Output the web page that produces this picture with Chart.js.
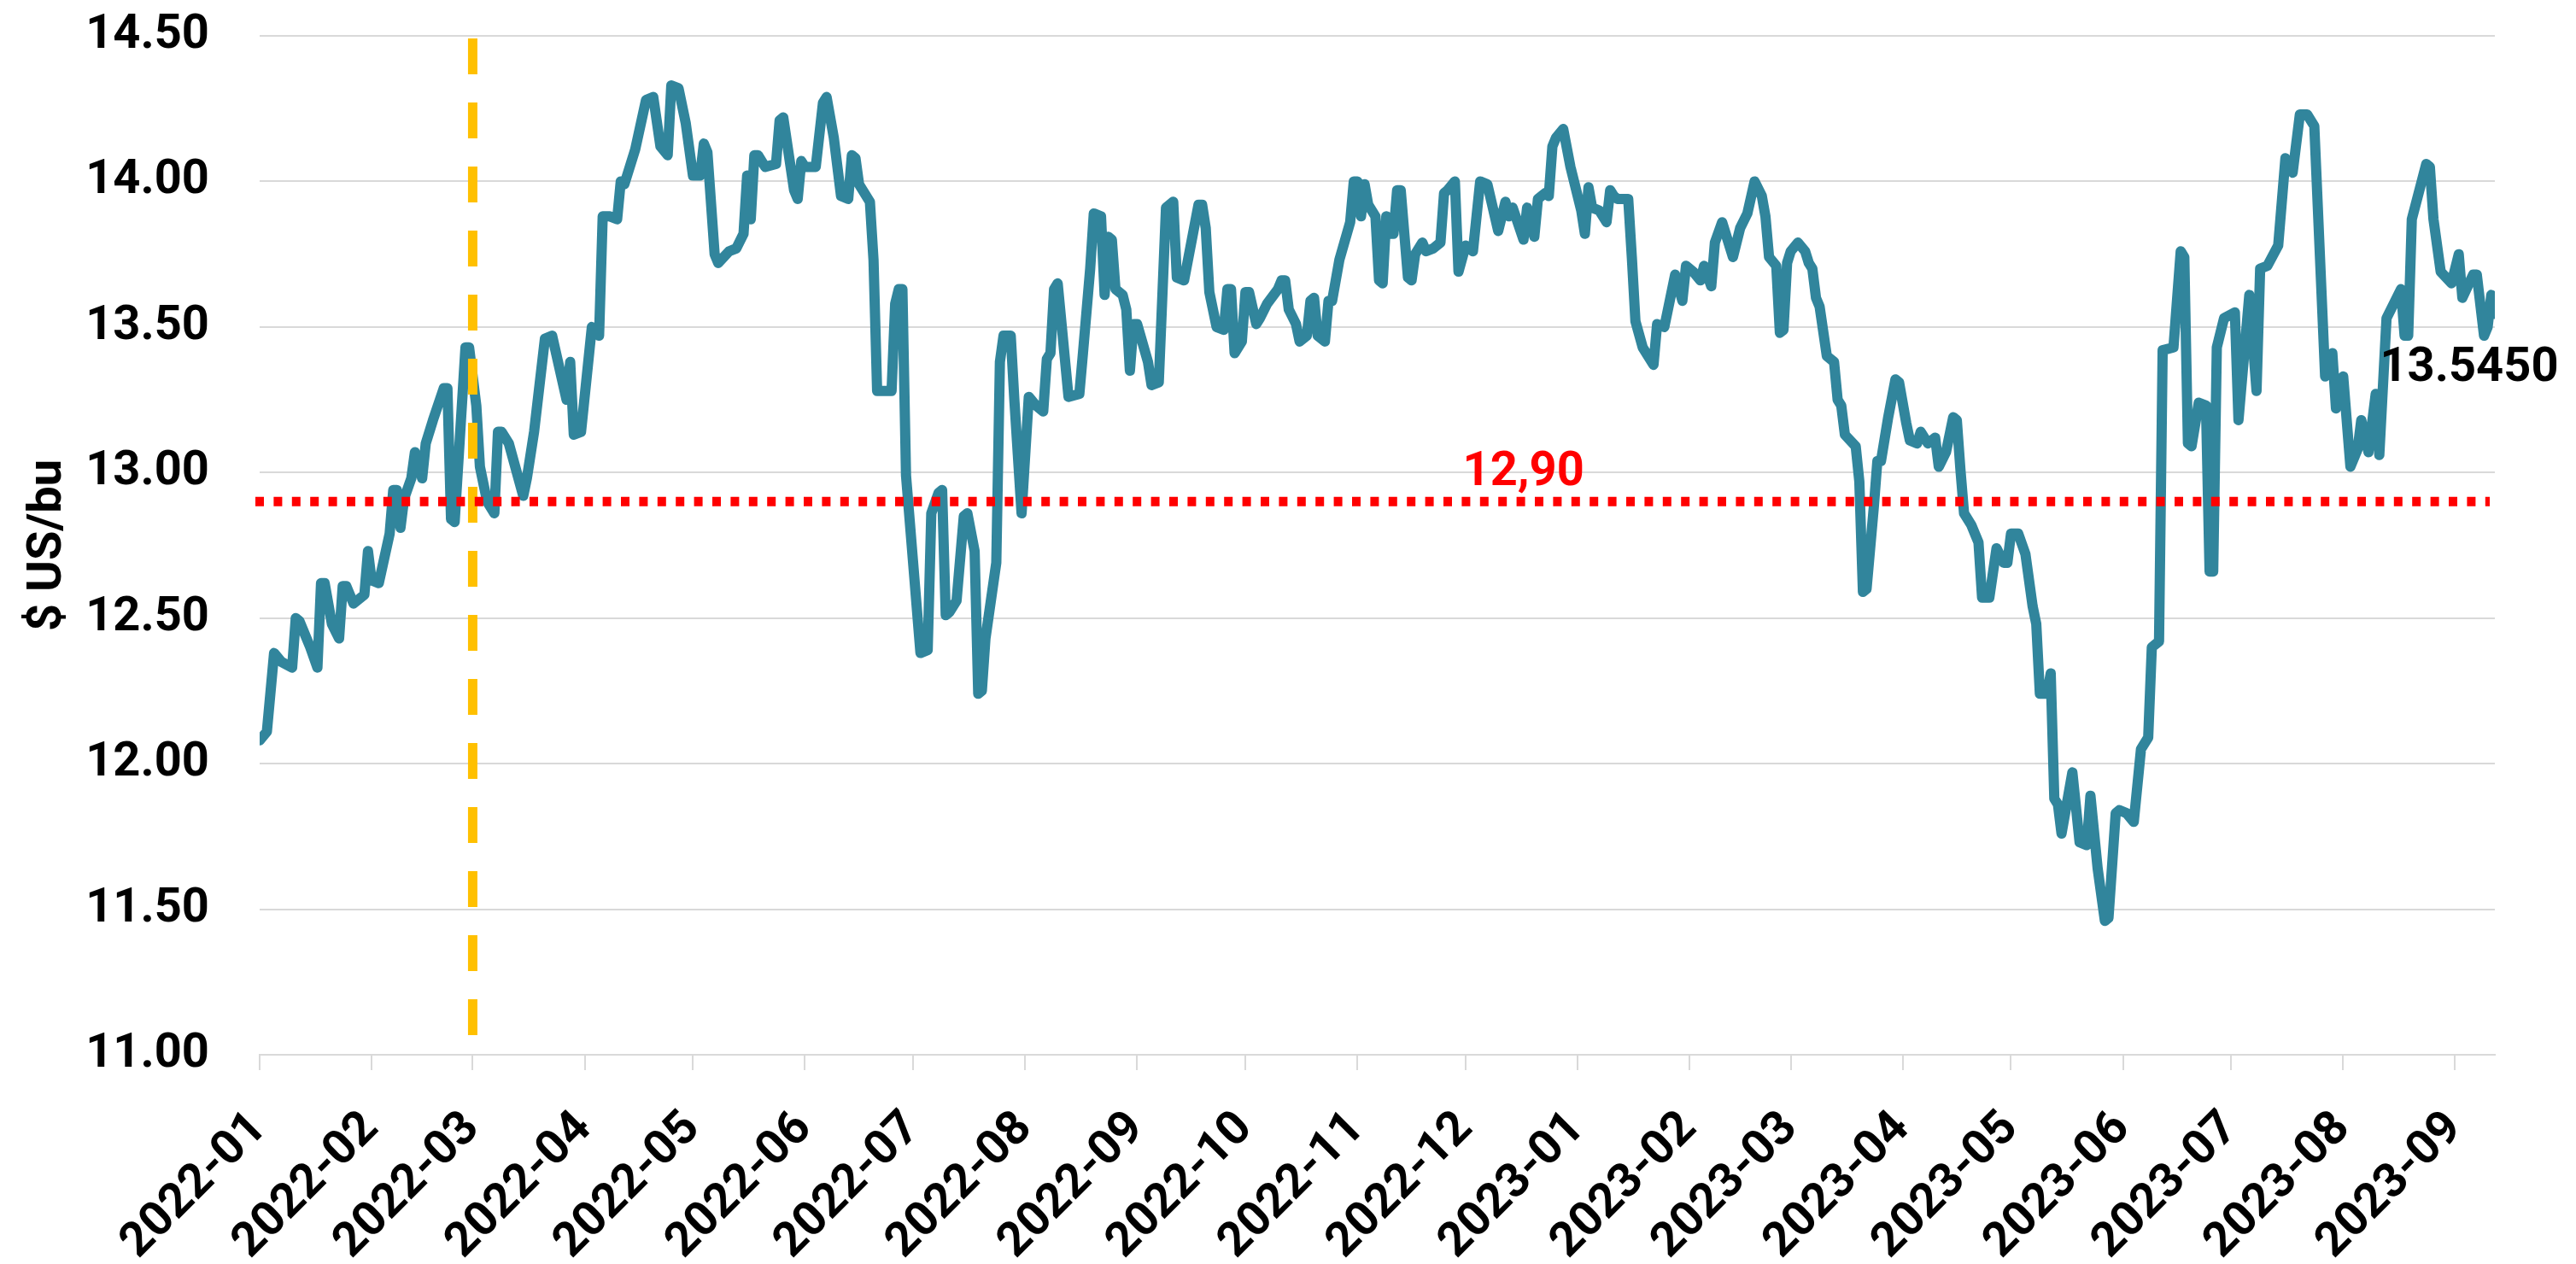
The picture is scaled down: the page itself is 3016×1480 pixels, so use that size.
<!DOCTYPE html>
<html>
<head>
<meta charset="utf-8">
<script src="https://cdn.jsdelivr.net/npm/chart.js@4.4.1/dist/chart.umd.min.js"></script>
<style>
  html, body { margin: 0; padding: 0; background: #ffffff; }
  #wrap { width: 3016px; height: 1480px; }
</style>
</head>
<body>
<div id="wrap"><canvas id="chart"></canvas></div>
<script>
// --- data ---
const dates = [
  '2022-01-03','2022-01-05','2022-01-07','2022-01-09','2022-01-12','2022-01-13','2022-01-14','2022-01-17','2022-01-19','2022-01-20',
  '2022-01-21','2022-01-23','2022-01-25','2022-01-26','2022-01-27','2022-01-29','2022-02-01','2022-02-02','2022-02-03','2022-02-05',
  '2022-02-08','2022-02-09','2022-02-10','2022-02-11','2022-02-12','2022-02-14','2022-02-15','2022-02-17','2022-02-18','2022-02-20',
  '2022-02-23','2022-02-24','2022-02-25','2022-02-26','2022-03-01','2022-03-02','2022-03-04','2022-03-05','2022-03-07','2022-03-09',
  '2022-03-10','2022-03-11','2022-03-13','2022-03-17','2022-03-18','2022-03-20','2022-03-23','2022-03-25','2022-03-29','2022-03-30',
  '2022-03-31','2022-04-02','2022-04-05','2022-04-07','2022-04-08','2022-04-10','2022-04-12','2022-04-13','2022-04-14','2022-04-17',
  '2022-04-20','2022-04-22','2022-04-24','2022-04-26','2022-04-27','2022-04-29','2022-05-01','2022-05-03','2022-05-05','2022-05-06',
  '2022-05-07','2022-05-09','2022-05-10','2022-05-13','2022-05-15','2022-05-17','2022-05-18','2022-05-19','2022-05-20','2022-05-21',
  '2022-05-23','2022-05-26','2022-05-27','2022-05-28','2022-05-31','2022-06-01','2022-06-02','2022-06-03','2022-06-06','2022-06-08',
  '2022-06-09','2022-06-11','2022-06-13','2022-06-15','2022-06-16','2022-06-17','2022-06-18','2022-06-21','2022-06-22','2022-06-23',
  '2022-06-27','2022-06-28','2022-06-29','2022-06-30','2022-07-01','2022-07-05','2022-07-07','2022-07-08','2022-07-10','2022-07-11',
  '2022-07-12','2022-07-13','2022-07-15','2022-07-17','2022-07-18','2022-07-20','2022-07-21','2022-07-22','2022-07-23','2022-07-26',
  '2022-07-27','2022-07-28','2022-07-30','2022-07-31','2022-08-02','2022-08-04','2022-08-06','2022-08-08','2022-08-09','2022-08-10',
  '2022-08-11','2022-08-12','2022-08-15','2022-08-18','2022-08-19','2022-08-21','2022-08-22','2022-08-24','2022-08-25','2022-08-26',
  '2022-08-27','2022-08-28','2022-08-30','2022-08-31','2022-09-01','2022-09-02','2022-09-03','2022-09-06','2022-09-07','2022-09-09',
  '2022-09-11','2022-09-13','2022-09-14','2022-09-16','2022-09-20','2022-09-21','2022-09-22','2022-09-23','2022-09-25','2022-09-27',
  '2022-09-28','2022-09-29','2022-09-30','2022-10-02','2022-10-03','2022-10-04','2022-10-06','2022-10-07','2022-10-09','2022-10-12',
  '2022-10-13','2022-10-14','2022-10-15','2022-10-17','2022-10-18','2022-10-20','2022-10-21','2022-10-22','2022-10-23','2022-10-25',
  '2022-10-26','2022-10-27','2022-10-29','2022-11-01','2022-11-02','2022-11-03','2022-11-04','2022-11-05','2022-11-06','2022-11-08',
  '2022-11-09','2022-11-10','2022-11-11','2022-11-12','2022-11-13','2022-11-14','2022-11-15','2022-11-17','2022-11-18','2022-11-19',
  '2022-11-21','2022-11-22','2022-11-24','2022-11-26','2022-11-27','2022-11-28','2022-11-30','2022-12-01','2022-12-03','2022-12-05',
  '2022-12-07','2022-12-09','2022-12-12','2022-12-14','2022-12-15','2022-12-16','2022-12-19','2022-12-20','2022-12-22','2022-12-23',
  '2022-12-25','2022-12-26','2022-12-27','2022-12-28','2022-12-30','2023-01-01','2023-01-04','2023-01-05','2023-01-06','2023-01-07',
  '2023-01-09','2023-01-11','2023-01-12','2023-01-13','2023-01-14','2023-01-17','2023-01-18','2023-01-19','2023-01-21','2023-01-24',
  '2023-01-25','2023-01-27','2023-01-30','2023-02-01','2023-02-02','2023-02-04','2023-02-06','2023-02-07','2023-02-09','2023-02-10',
  '2023-02-12','2023-02-15','2023-02-17','2023-02-19','2023-02-21','2023-02-23','2023-02-24','2023-02-25','2023-02-27','2023-02-28',
  '2023-03-01','2023-03-02','2023-03-03','2023-03-05','2023-03-07','2023-03-08','2023-03-09','2023-03-10','2023-03-11','2023-03-13',
  '2023-03-15','2023-03-16','2023-03-17','2023-03-18','2023-03-21','2023-03-22','2023-03-23','2023-03-24','2023-03-25','2023-03-26',
  '2023-03-27','2023-03-28','2023-03-30','2023-04-01','2023-04-02','2023-04-04','2023-04-05','2023-04-07','2023-04-08','2023-04-10',
  '2023-04-12','2023-04-13','2023-04-15','2023-04-17','2023-04-18','2023-04-19','2023-04-20','2023-04-22','2023-04-24','2023-04-25',
  '2023-04-27','2023-04-29','2023-05-01','2023-05-02','2023-05-03','2023-05-05','2023-05-07','2023-05-09','2023-05-10','2023-05-11',
  '2023-05-13','2023-05-14','2023-05-15','2023-05-16','2023-05-17','2023-05-20','2023-05-22','2023-05-24','2023-05-25','2023-05-27',
  '2023-05-29','2023-05-30','2023-06-01','2023-06-02','2023-06-04','2023-06-06','2023-06-08','2023-06-10','2023-06-11','2023-06-13',
  '2023-06-14','2023-06-17','2023-06-19','2023-06-20','2023-06-21','2023-06-22','2023-06-24','2023-06-26','2023-06-27','2023-06-28',
  '2023-06-29','2023-07-01','2023-07-04','2023-07-05','2023-07-08','2023-07-10','2023-07-11','2023-07-13','2023-07-16','2023-07-18',
  '2023-07-20','2023-07-22','2023-07-24','2023-07-26','2023-07-29','2023-07-31','2023-08-01','2023-08-03','2023-08-05','2023-08-07',
  '2023-08-08','2023-08-10','2023-08-12','2023-08-13','2023-08-15','2023-08-19','2023-08-20','2023-08-21','2023-08-22','2023-08-26',
  '2023-08-27','2023-08-28','2023-08-30','2023-09-02','2023-09-04','2023-09-05','2023-09-08','2023-09-09','2023-09-11','2023-09-12',
  '2023-09-13','2023-09-14'
];

const prices = [
  12.08,12.11,12.38,12.35,12.33,12.50,12.49,12.40,12.33,12.62,
  12.62,12.48,12.43,12.61,12.61,12.55,12.58,12.73,12.63,12.62,
  12.79,12.94,12.94,12.81,12.91,12.98,13.07,12.98,13.10,13.18,
  13.29,13.29,12.84,12.83,13.43,13.43,13.23,13.02,12.90,12.86,
  13.14,13.14,13.10,12.92,12.98,13.14,13.46,13.47,13.25,13.38,
  13.13,13.14,13.50,13.47,13.88,13.88,13.87,14.00,13.99,14.11,
  14.28,14.29,14.12,14.09,14.33,14.32,14.20,14.02,14.02,14.13,
  14.10,13.75,13.72,13.76,13.77,13.82,14.02,13.87,14.09,14.09,
  14.05,14.06,14.21,14.22,13.97,13.94,14.07,14.05,14.05,14.27,
  14.29,14.15,13.95,13.94,14.09,14.08,13.99,13.93,13.73,13.28,
  13.28,13.58,13.63,13.63,12.99,12.38,12.39,12.86,12.93,12.94,
  12.51,12.52,12.56,12.85,12.86,12.73,12.24,12.25,12.43,12.69,
  13.38,13.47,13.47,13.25,12.86,13.26,13.23,13.21,13.39,13.41,
  13.63,13.65,13.26,13.27,13.41,13.70,13.89,13.88,13.61,13.81,
  13.80,13.63,13.61,13.56,13.35,13.51,13.51,13.38,13.30,13.31,
  13.91,13.93,13.67,13.66,13.92,13.92,13.84,13.62,13.50,13.49,
  13.63,13.63,13.41,13.45,13.62,13.62,13.51,13.53,13.58,13.63,
  13.66,13.66,13.56,13.51,13.45,13.47,13.59,13.60,13.47,13.45,
  13.59,13.59,13.73,13.86,14.00,14.00,13.88,13.99,13.92,13.88,
  13.66,13.65,13.88,13.82,13.82,13.97,13.97,13.67,13.66,13.75,
  13.79,13.76,13.77,13.79,13.96,13.97,14.00,13.69,13.78,13.76,
  14.00,13.99,13.83,13.93,13.88,13.91,13.80,13.91,13.81,13.94,
  13.96,13.95,14.12,14.15,14.18,14.05,13.90,13.82,13.98,13.91,
  13.90,13.86,13.97,13.95,13.94,13.94,13.74,13.52,13.43,13.37,
  13.51,13.50,13.68,13.59,13.71,13.69,13.66,13.71,13.64,13.79,
  13.86,13.74,13.84,13.89,14.00,13.95,13.88,13.74,13.71,13.48,
  13.49,13.72,13.76,13.79,13.76,13.72,13.70,13.60,13.57,13.40,
  13.38,13.25,13.23,13.13,13.09,12.97,12.59,12.60,12.74,12.88,
  13.04,13.04,13.19,13.32,13.31,13.17,13.11,13.10,13.14,13.10,
  13.12,13.02,13.07,13.19,13.18,13.01,12.86,12.82,12.76,12.57,
  12.57,12.74,12.69,12.69,12.79,12.79,12.72,12.54,12.48,12.24,
  12.24,12.31,11.88,11.86,11.76,11.97,11.73,11.72,11.89,11.64,
  11.46,11.47,11.83,11.84,11.83,11.80,12.05,12.09,12.40,12.42,
  13.42,13.43,13.76,13.74,13.10,13.09,13.24,13.23,12.66,12.66,
  13.43,13.53,13.55,13.18,13.61,13.28,13.70,13.71,13.78,14.08,
  14.03,14.23,14.23,14.19,13.33,13.41,13.22,13.33,13.02,13.08,
  13.18,13.07,13.27,13.06,13.53,13.63,13.47,13.47,13.87,14.06,
  14.05,13.87,13.69,13.65,13.75,13.60,13.68,13.68,13.47,13.50,
  13.61,13.545
];

const monthLabels = [
  '2022-01','2022-02','2022-03','2022-04','2022-05','2022-06','2022-07','2022-08','2022-09','2022-10','2022-11',
  '2022-12','2023-01','2023-02','2023-03','2023-04','2023-05','2023-06','2023-07','2023-08','2023-09'
];
const yTickValues = [11.00, 11.50, 12.00, 12.50, 13.00, 13.50, 14.00, 14.50];

const refLevel = 12.90;
const refText = '12,90';
const refTextDate = '2022-12-19';
const markerDate = '2022-03-03';
const lastText = '13.5450';

// --- helpers ---
const toDay = s => Date.UTC(+s.slice(0, 4), +s.slice(5, 7) - 1, +s.slice(8, 10)) / 86400000;
// Excel date axis: one tick per month, counted from the first date
const tickDay = m => toDay(m + dates[0].slice(7));

const FONT = 'Roboto';
Chart.defaults.font.family = FONT;
Chart.defaults.font.size = 56;
Chart.defaults.font.weight = 'bold';
Chart.defaults.color = '#000000';

// dashed marker, red reference line and the two text labels
const overlays = {
  id: 'overlays',
  afterDatasetsDraw(chart) {
    const { ctx, chartArea: a, scales: { x, y } } = chart;
    ctx.save();

    const mx = x.getPixelForValue(toDay(markerDate));
    ctx.strokeStyle = '#FFC000';
    ctx.lineWidth = 11;
    ctx.setLineDash([42, 33]);
    ctx.beginPath();
    ctx.moveTo(mx, a.top + 3);
    ctx.lineTo(mx, a.bottom);
    ctx.stroke();

    const ry = y.getPixelForValue(refLevel);
    ctx.strokeStyle = '#FF0000';
    ctx.lineWidth = 11;
    ctx.setLineDash([10, 11.4]);
    ctx.beginPath();
    ctx.moveTo(a.left - 5, ry);
    ctx.lineTo(a.right - 6, ry);
    ctx.stroke();
    ctx.setLineDash([]);

    ctx.font = `bold 56px ${FONT}`;
    ctx.textAlign = 'center';
    ctx.textBaseline = 'alphabetic';
    ctx.fillStyle = '#FF0000';
    ctx.fillText(refText, x.getPixelForValue(toDay(refTextDate)), ry - 19);

    const pts = chart.getDatasetMeta(0).data;
    const last = pts[pts.length - 1];
    ctx.fillStyle = '#000000';
    ctx.fillText(lastText, last.x - 30, last.y + 78);

    ctx.restore();
  }
};

new Chart(document.getElementById('chart'), {
  type: 'line',
  data: {
    datasets: [{
      data: dates.map((d, i) => ({ x: toDay(d), y: prices[i] })),
      borderColor: '#31859C',
      borderWidth: 12,
      borderJoinStyle: 'round',
      borderCapStyle: 'round',
      pointRadius: 0,
      tension: 0,
      fill: false
    }]
  },
  options: {
    responsive: true,
    maintainAspectRatio: false,
    animation: false,
    events: [],
    layout: { padding: { top: 42, right: 95, bottom: 0, left: 0 } },
    plugins: { legend: { display: false }, tooltip: { enabled: false } },
    scales: {
      x: {
        type: 'linear',
        min: toDay(dates[0]),
        max: toDay(dates[dates.length - 1]),
        afterBuildTicks: s => { s.ticks = monthLabels.map(m => ({ value: tickDay(m) })); },
        afterFit: s => { s.height = 245; s.paddingLeft = 0; s.paddingRight = 0; },
        ticks: {
          autoSkip: false,
          maxRotation: 45,
          minRotation: 45,
          padding: 36,
          callback: (v, i) => monthLabels[i]
        },
        grid: { drawOnChartArea: false, drawTicks: true, tickLength: 18, color: '#D9D9D9', lineWidth: 2 },
        border: { display: true, color: '#D9D9D9', width: 2 }
      },
      y: {
        min: 11,
        max: 14.5,
        afterBuildTicks: s => { s.ticks = yTickValues.map(v => ({ value: v })); },
        afterFit: s => { s.width = 304; s.paddingTop = 0; s.paddingBottom = 0; },
        ticks: { padding: 59, callback: v => v.toFixed(2) },
        grid: { color: '#D9D9D9', lineWidth: 2, drawTicks: false },
        border: { display: false },
        title: { display: true, text: '$ US/bu', padding: { top: 23, bottom: 0 } }
      }
    }
  },
  plugins: [overlays]
});
</script>
</body>
</html>
